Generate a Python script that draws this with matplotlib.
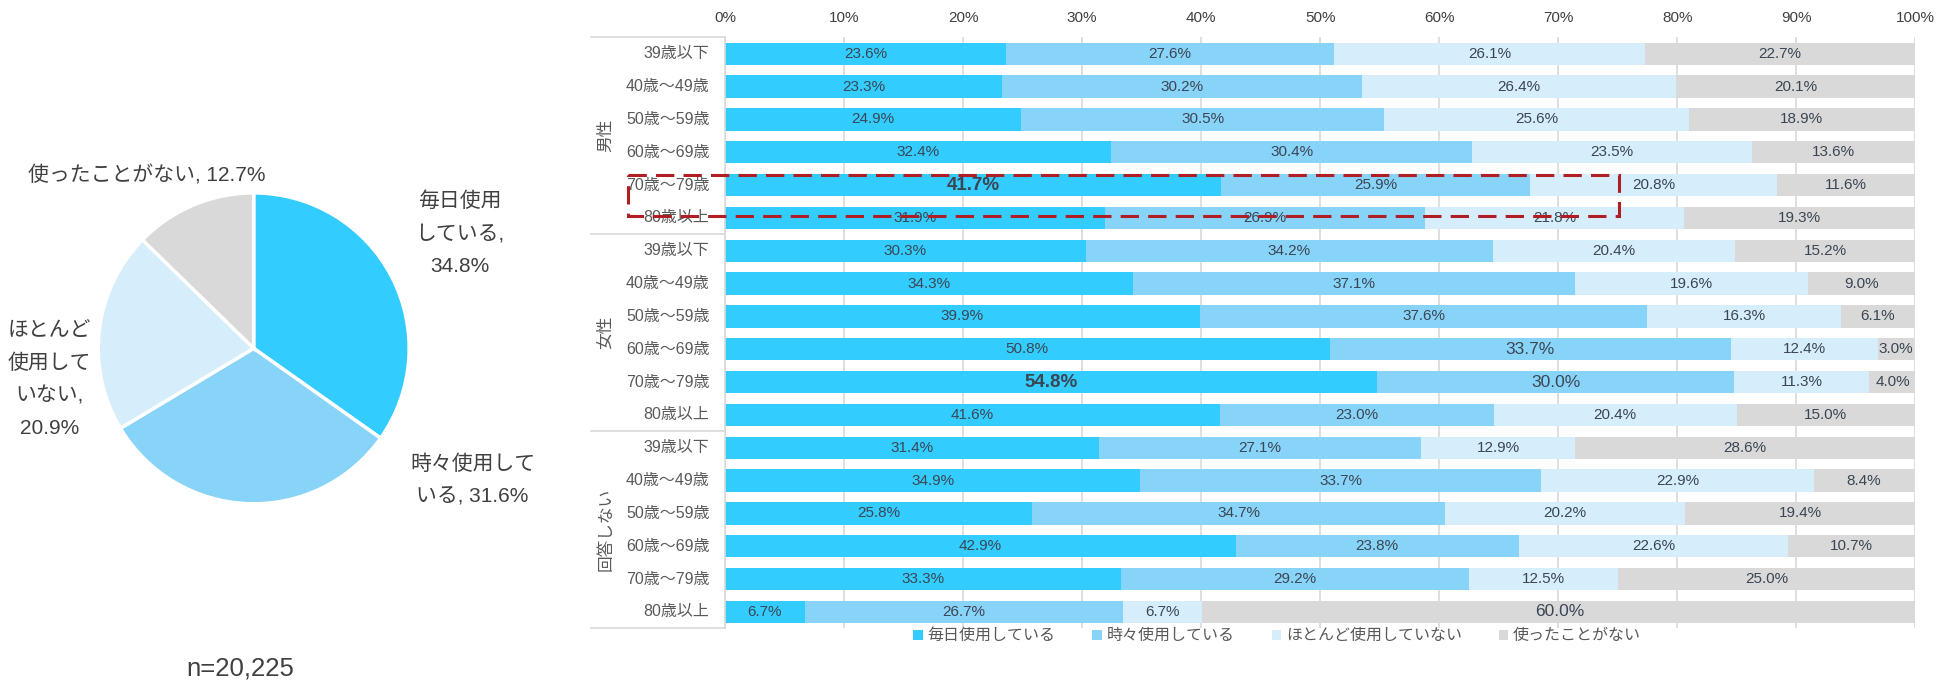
import numpy as np
import matplotlib.pyplot as plt
from matplotlib.patches import Rectangle

plt.rcParams['font.family'] = ['Liberation Sans', 'Noto Sans CJK JP', 'DejaVu Sans']
narrow = ['Liberation Sans Narrow', 'Liberation Sans', 'Noto Sans CJK JP']

# data
answers = ['毎日使用している', '時々使用している', 'ほとんど使用していない', '使ったことがない']
colors = ['#33CCFF', '#88D3F8', '#D6EEFB', '#D9D9D9']

pie_vals = [34.8, 31.6, 20.9, 12.7]
pie_labels = ['毎日使用\nしている,\n34.8%', '時々使用して\nいる, 31.6%', 'ほとんど\n使用して\nいない,\n20.9%', '使ったことがない, 12.7%']
n_text = 'n=20,225'

groups = ['男性', '女性', '回答しない']
ages = ['39歳以下', '40歳～49歳', '50歳～59歳', '60歳～69歳', '70歳～79歳', '80歳以上']

daily = [23.6, 23.3, 24.9, 32.4, 41.7, 31.9,
         30.3, 34.3, 39.9, 50.8, 54.8, 41.6,
         31.4, 34.9, 25.8, 42.9, 33.3, 6.7]
sometimes = [27.6, 30.2, 30.5, 30.4, 25.9, 26.9,
             34.2, 37.1, 37.6, 33.7, 30.0, 23.0,
             27.1, 33.7, 34.7, 23.8, 29.2, 26.7]
rarely = [26.1, 26.4, 25.6, 23.5, 20.8, 21.8,
          20.4, 19.6, 16.3, 12.4, 11.3, 20.4,
          12.9, 22.9, 20.2, 22.6, 12.5, 6.7]
never = [22.7, 20.1, 18.9, 13.6, 11.6, 19.3,
         15.2, 9.0, 6.1, 3.0, 4.0, 15.0,
         28.6, 8.4, 19.4, 10.7, 25.0, 60.0]

# highlighted labels (row, series)
bold_cells = [(4, 0), (10, 0)]
big_cells = [(9, 1), (10, 1), (17, 3)]

series = [daily, sometimes, rarely, never]
rows = len(daily)
y = np.arange(rows)

fig = plt.figure(figsize=(19.5, 6.88), dpi=100)
# layout measured on a 1568 x 553 view of the reference
W, H = 1568, 553

# ---- pie ----
pc = (204, 280)
pr = 125
axp = fig.add_axes([(pc[0] - pr) / W, 1 - (pc[1] + pr) / H, 2 * pr / W, 2 * pr / H])
axp.pie(pie_vals, colors=colors, startangle=90, counterclock=False,
        wedgeprops=dict(edgecolor='white', linewidth=2.5))
axp.set_xlim(-1, 1)
axp.set_ylim(-1, 1)
axp.set_aspect('equal')

label_pos = [(370, 188), (380, 386), (40, 305), (118, 141)]
for lab, (px, py) in zip(pie_labels, label_pos):
    fig.text(px / W, 1 - py / H, lab, ha='center', va='center', fontsize=15,
             color='#404040', linespacing=1.9)
fig.text(193 / W, 1 - 537 / H, n_text, ha='center', va='center', fontsize=18.5, color='#404040')

# ---- stacked bars ----
ax = fig.add_axes([583 / W, 1 - 505 / H, (1540 - 583) / W, (505 - 30) / H])
left = np.zeros(rows)
for i, (vals, c, name) in enumerate(zip(series, colors, answers)):
    vals = np.array(vals)
    ax.barh(y, vals, left=left, height=0.68, color=c, label=name, zorder=2)
    for r in range(rows):
        fs = 11
        fw = 'normal'
        if (r, i) in bold_cells:
            fs, fw = 13.5, 'bold'
        elif (r, i) in big_cells:
            fs = 12.5
        ax.text(left[r] + vals[r] / 2, r, f'{vals[r]:.1f}%', ha='center', va='center',
                fontsize=fs, fontweight=fw, color='#3B4654', zorder=3, family=narrow)
    left += vals

ax.set_xlim(0, 100)
ax.set_ylim(rows - 0.5, -0.5)
ax.xaxis.tick_top()
ax.set_xticks(np.arange(0, 101, 10))
ax.set_xticklabels([f'{v}%' for v in range(0, 101, 10)])
ax.tick_params(axis='x', length=0, labelsize=11, colors='#404040', pad=9)
ax.set_yticks([])
ax.grid(axis='x', color='#D9D9D9', linewidth=1.2, zorder=0)
for s in ['top', 'right', 'bottom']:
    ax.spines[s].set_visible(False)
ax.spines['left'].set_color('#D9D9D9')
ax.spines['left'].set_linewidth(1.2)

# category column
trans = ax.get_yaxis_transform()
col_left = (475 - 583) / (1540 - 583)
for b in [-0.5, 5.5, 11.5, 17.5]:
    ax.plot([col_left, 0], [b, b], transform=trans, color='#D9D9D9', linewidth=1.2, clip_on=False)
for r in range(rows):
    ax.text(-0.013, r, ages[r % len(ages)], transform=trans, ha='right', va='center',
            fontsize=11.5, color='#595959')
for g, name in enumerate(groups):
    ax.text((487 - 583) / (1540 - 583), g * 6 + 2.5, name, transform=trans, rotation=90,
            ha='center', va='center', fontsize=12, color='#595959')

# highlight box
ax.add_patch(Rectangle((-8.15, 3.68), 75.1 + 8.15, 1.25, fill=False, edgecolor='#B01E23',
                       linewidth=2.2, linestyle=(0, (6, 3)), clip_on=False, zorder=5))

fig.legend(loc='center', bbox_to_anchor=(1027 / W, 1 - 511 / H), ncol=4, frameon=False,
           fontsize=11.5, handlelength=0.6, handleheight=0.6, handletextpad=0.3,
           columnspacing=2.3, labelcolor='#595959')

fig.savefig('out.png', dpi=100)
